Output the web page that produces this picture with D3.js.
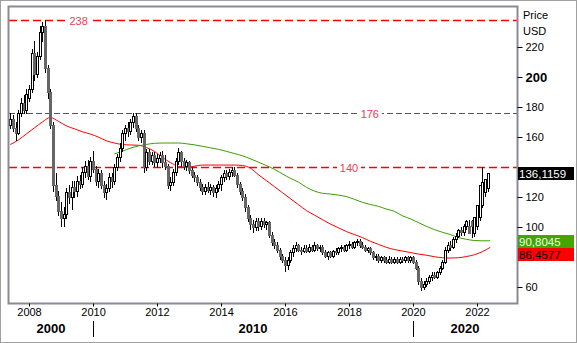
<!DOCTYPE html>
<html>
<head>
<meta charset="utf-8">
<script src="https://cdn.jsdelivr.net/npm/d3@7"></script>
<style>
  body { margin: 0; background: #fff; }
  svg { display: block; }
  text { font-family: "Liberation Sans", Arial, sans-serif; }
</style>
</head>
<body>
<svg id="chart" width="577" height="343"></svg>
<script>
// Monthly candles, June 2007 .. June 2022 (USD)
const firstMonth = "2007-06";
const opens = [
  168,172,166,163,176,183,178,186,192,216,202,214,230,234,206,190,168,128,121,111,
  106,109,123,120,127,124,131,129,137,141,134,144,139,131,136,128,123,126,133,131,
  140,147,153,163,166,164,170,174,166,160,163,140,150,144,148,143,146,148,143,141,
  128,130,137,144,150,144,141,143,138,135,133,130,127,124,127,125,127,123,126,129,
  133,136,134,137,138,135,129,124,120,113,106,102,100,104,101,104,102,103,95,90,
  88,85,81,78,75,78,83,86,88,85,84,86,84,87,85,88,86,87,83,81,
  83,81,84,83,86,87,85,88,89,87,90,91,88,87,85,86,83,80,81,78,
  80,78,77,79,77,79,77,79,78,80,78,80,77,73,64,60,62,64,67,68,
  67,70,73,77,85,88,87,92,94,98,97,101,101,104,96,101,107,115,123,126,
  130
];
const highs = [
  176,175,170,178,186,188,192,195,219,224,217,234,237,238,208,192,170,136,124,117,
  113,126,128,131,131,134,135,140,144,145,147,151,141,139,138,131,129,136,136,142,
  149,156,165,168,170,172,176,176,168,165,165,152,152,150,150,149,150,151,148,142,
  133,139,146,153,151,146,145,144,140,137,135,132,129,129,130,129,128,128,131,135,
  138,138,139,140,140,136,130,126,122,115,108,105,106,106,106,106,104,104,97,92,
  90,86,82,80,80,85,88,90,89,87,88,88,89,88,90,89,88,88,85,84,
  84,85,86,87,88,88,89,91,90,91,92,92,90,88,87,87,84,82,82,81,
  81,80,81,80,80,80,80,80,81,81,81,81,78,74,66,64,66,68,70,70,
  71,74,78,87,90,91,93,96,99,100,102,105,105,105,103,109,117,140,132,134,
  138
];
const lows = [
  166,164,158,162,174,176,176,184,190,198,200,212,224,203,186,166,124,118,108,101,
  101,106,116,112,120,121,126,127,133,132,131,137,128,127,126,120,119,124,127,129,
  138,144,151,158,161,162,167,164,158,157,137,138,142,142,141,140,143,140,139,126,
  125,128,135,142,141,139,138,136,133,131,128,125,122,122,123,122,121,120,124,125,
  131,132,132,134,134,127,122,118,111,104,99,97,98,98,99,100,99,93,88,86,
  83,79,77,71,72,77,81,84,84,82,83,83,83,84,84,85,84,82,80,79,
  80,80,82,82,84,84,84,86,86,86,88,87,86,84,83,82,79,78,77,77,
  77,76,76,76,76,76,76,77,77,77,77,76,72,62,58,59,61,63,65,66,
  66,69,72,76,83,85,86,90,93,95,95,99,100,93,94,99,105,113,121,124,
  128
];
const closes = [
  172,166,163,176,183,178,189,192,216,202,214,230,234,206,190,168,128,121,111,106,
  109,123,120,127,124,131,129,137,141,134,144,139,131,136,128,123,126,133,131,140,
  147,153,163,166,164,170,174,166,160,163,140,150,144,148,143,146,148,143,141,128,
  130,137,144,150,144,141,143,138,135,133,130,127,124,127,125,127,123,126,129,133,
  136,134,137,138,135,129,124,120,113,106,102,100,104,101,104,102,103,95,90,88,
  85,81,78,75,78,83,86,88,85,84,86,84,87,85,88,86,87,83,81,83,
  81,84,83,86,87,85,88,89,87,90,91,88,87,85,86,83,80,81,78,80,
  78,77,79,77,79,77,79,78,80,78,80,77,73,64,60,62,64,67,68,67,
  70,73,77,85,88,87,92,94,98,97,101,104,96,101,107,115,128,130,132,136.1159
];

// Moving averages, read at quarterly points
const redMaMonths = [
  "2007-06","2007-09","2007-12","2008-03","2008-06","2008-09","2008-12","2009-03","2009-06","2009-09",
  "2009-12","2010-03","2010-06","2010-09","2010-12","2011-03","2011-06","2011-09","2011-12","2012-03",
  "2012-06","2012-09","2012-12","2013-03","2013-06","2013-09","2013-12","2014-03","2014-06","2014-09",
  "2014-12","2015-03","2015-06","2015-09","2015-12","2016-03","2016-06","2016-09","2016-12","2017-03",
  "2017-06","2017-09","2017-12","2018-03","2018-06","2018-09","2018-12","2019-03","2019-06","2019-09",
  "2019-12","2020-03","2020-06","2020-09","2020-12","2021-03","2021-06","2021-09","2021-12","2022-03",
  "2022-06"
];
const redMaValues = [
  155,158,162,166,170,173,170.5,167.5,165.5,163.5,
  162,160,157.5,156,155,154.7,154.5,153,150.5,146.5,
  143,140.5,139.8,140.5,141.3,141.3,141.3,141.3,141.3,141,
  139.3,135,131,127,123,119,115,111,108,105,
  102,99.5,97,95,93,90.5,88.5,86.5,85,84,
  83,82,81.2,80.2,79.5,79.3,79.5,80.3,81.5,83.5,
  86.4577
];
const greenMaMonths = [
  "2010-09","2010-12","2011-03","2011-06","2011-09","2011-12","2012-03","2012-06","2012-09","2012-12",
  "2013-03","2013-06","2013-09","2013-12","2014-03","2014-06","2014-09","2014-12","2015-03","2015-06",
  "2015-09","2015-12","2016-03","2016-06","2016-09","2016-12","2017-03","2017-06","2017-09","2017-12",
  "2018-03","2018-06","2018-09","2018-12","2019-03","2019-06","2019-09","2019-12","2020-03","2020-06",
  "2020-09","2020-12","2021-03","2021-06","2021-09","2021-12","2022-03","2022-06"
];
const greenMaValues = [
  148.7,150.5,152.5,154,155,155.8,156,156,156,155.5,
  154.8,153.8,152.8,151.8,150.5,149,147.5,145.5,143.3,141,
  138.5,135.5,132.5,130,126.5,124,122.5,122,121.3,120.3,
  118.5,116.5,115,113.8,112,110.5,107.5,105.5,103,100.5,
  98.3,96.5,95,93,91.8,91,90.8,90.8045
];

// Horizontal reference levels
const levelValues = [238, 176, 140];
const levelColors = ["#ff0000", "#555555", "#ff0000"];
const levelLabelYears = [2009.55, 2018.65, 2018.0];

// Price scale labels (80 and 140 sit under the last-value boxes)
const priceTicks = [60, 100, 120, 160, 180, 200, 220];
const yearTicks = [2008, 2010, 2012, 2014, 2016, 2018, 2020, 2022];
const decadeLabels = ["2000", "2010", "2020"];
const decadeStarts = [2000, 2010, 2020];

// Last values shown in the price scale
const lastValues = [136.1159, 90.8045, 86.4577];
const lastLabels = ["136,1159", "90,8045", "86,4577"];
const lastFills = ["#000000", "#44a500", "#ff0000"];
const lastTextColors = ["#ffffff", "#eaffe0", "#000000"];

// ---------------------------------------------------------------
const svg = d3.select("#chart");
const W = 577, H = 343;
const plot = { left: 9, right: 517, top: 7, bottom: 303 };

const parseMonth = d3.utcParse("%Y-%m");
const start = parseMonth(firstMonth);
const yearDate = y => new Date(Date.UTC(Math.floor(y), 0, 1) + (y - Math.floor(y)) * 365.25 * 864e5);

const x = d3.scaleUtc()
  .domain([new Date(Date.UTC(2008, 0, 1)), new Date(Date.UTC(2022, 0, 1))])
  .range([29, 477]);
const y = d3.scaleLinear().domain([60, 220]).range([287, 47]);

// outer border
svg.append("rect").attr("x", 0.5).attr("y", 0.5).attr("width", W - 1).attr("height", H - 1)
  .attr("fill", "#fff").attr("stroke", "#a0a0a0");

svg.append("clipPath").attr("id", "plotclip").append("rect")
  .attr("x", plot.left).attr("y", plot.top)
  .attr("width", plot.right - plot.left).attr("height", plot.bottom - plot.top);

const g = svg.append("g").attr("clip-path", "url(#plotclip)");

// reference levels
levelValues.forEach((v, k) => {
  const yy = Math.round(y(v)) + 0.5;
  g.append("line").attr("x1", plot.left).attr("x2", plot.right)
    .attr("y1", yy).attr("y2", yy)
    .attr("stroke", levelColors[k]).attr("stroke-width", k === 1 ? 1 : 1.5)
    .attr("stroke-dasharray", k === 1 ? "6,3" : "8,4");
  const lx = x(yearDate(levelLabelYears[k]));
  g.append("rect").attr("x", lx - 12).attr("y", yy - 6).attr("width", 24).attr("height", 12).attr("fill", "#fff");
  g.append("text").attr("x", lx).attr("y", yy + 4).attr("text-anchor", "middle")
    .attr("font-size", 11).attr("fill", "#f23a55").text(v);
});

// moving averages
const maLine = d3.line().x(d => x(d[0])).y(d => y(d[1])).curve(d3.curveMonotoneX);
g.append("path")
  .datum(redMaMonths.map((m, k) => [parseMonth(m), redMaValues[k]]))
  .attr("d", maLine).attr("fill", "none").attr("stroke", "#ff0000").attr("stroke-width", 1);
g.append("path")
  .datum(greenMaMonths.map((m, k) => [parseMonth(m), greenMaValues[k]]))
  .attr("d", maLine).attr("fill", "none").attr("stroke", "#3c9d00").attr("stroke-width", 1);

// candles
const candles = closes.map((c, i) => ({
  date: d3.utcMonth.offset(start, i), o: opens[i], h: highs[i], l: lows[i], c
}));
const cg = g.append("g");
candles.forEach(d => {
  const cx = Math.round(x(d.date));
  const up = d.c >= d.o;
  cg.append("line").attr("x1", cx + 0.5).attr("x2", cx + 0.5)
    .attr("y1", Math.round(y(d.h))).attr("y2", Math.round(y(d.l)) + 1)
    .attr("stroke", "#000").attr("stroke-width", 1);
  const top = Math.round(y(Math.max(d.o, d.c)));
  const bot = Math.round(y(Math.min(d.o, d.c)));
  if (up) {
    cg.append("rect").attr("x", cx - 0.5).attr("y", top + 0.5)
      .attr("width", 2).attr("height", Math.max(1, bot - top))
      .attr("fill", "#fff").attr("stroke", "#000").attr("stroke-width", 1);
  } else {
    cg.append("rect").attr("x", cx - 1).attr("y", top)
      .attr("width", 3).attr("height", Math.max(1, bot - top + 1))
      .attr("fill", "#666666");
  }
});

// plot frame
svg.append("rect").attr("x", plot.left - 0.5).attr("y", plot.top - 0.5)
  .attr("width", plot.right - plot.left + 1).attr("height", plot.bottom - plot.top + 1)
  .attr("fill", "none").attr("stroke", "#8a8a96").attr("stroke-width", 2);

// right price axis
const yAxis = d3.axisRight(y).tickValues(priceTicks).tickSize(5).tickPadding(3).tickFormat(d3.format("d"));
const ya = svg.append("g").attr("transform", `translate(${plot.right + 0.5},0)`).call(yAxis);
ya.select(".domain").remove();
ya.selectAll("text").attr("font-size", 11).attr("fill", "#000")
  .style("font-family", '"Liberation Sans", Arial, sans-serif');
ya.selectAll(".tick").filter(d => d === 200).select("text")
  .attr("font-size", 13).attr("font-weight", "bold");

svg.append("text").attr("x", 523).attr("y", 19).attr("font-size", 11).text("Price");
svg.append("text").attr("x", 523).attr("y", 35).attr("font-size", 11).text("USD");

// last-value boxes on the price scale, stacked so they don't overlap
let prevBottom = -Infinity;
lastValues.map((v, k) => ({ v, k })).sort((a, b) => b.v - a.v).forEach(({ v, k }) => {
  let top = Math.round(y(v)) - 6;
  if (top < prevBottom) top = prevBottom;
  prevBottom = top + 13;
  svg.append("rect").attr("x", plot.right + 1).attr("y", top).attr("width", 56).attr("height", 13)
    .attr("fill", lastFills[k]);
  svg.append("text").attr("x", plot.right + 2).attr("y", top + 11).attr("font-size", 11.5)
    .attr("fill", lastTextColors[k]).text(lastLabels[k]);
});

// bottom time axis
const xAxis = d3.axisBottom(x)
  .tickValues(yearTicks.map(yr => new Date(Date.UTC(yr, 0, 1))))
  .tickSize(3).tickPadding(2).tickFormat(d3.utcFormat("%Y"));
const xa = svg.append("g").attr("transform", `translate(0,${plot.bottom + 0.5})`).call(xAxis);
xa.select(".domain").remove();
xa.selectAll("text").attr("font-size", 11).attr("fill", "#000")
  .style("font-family", '"Liberation Sans", Arial, sans-serif');

// decade row
decadeStarts.forEach((yr, k) => {
  const x0 = Math.max(plot.left, x(new Date(Date.UTC(yr, 0, 1))));
  const x1 = Math.min(plot.right, x(new Date(Date.UTC(yr + 10, 0, 1))));
  svg.append("text").attr("x", (x0 + x1) / 2).attr("y", 333).attr("text-anchor", "middle")
    .attr("font-size", 13).attr("font-weight", "bold").text(decadeLabels[k]);
  if (yr > 2000) {
    const xs = Math.round(x(new Date(Date.UTC(yr, 0, 1)))) + 0.5;
    svg.append("line").attr("x1", xs).attr("x2", xs).attr("y1", 321).attr("y2", 337)
      .attr("stroke", "#000");
  }
});
</script>
</body>
</html>
